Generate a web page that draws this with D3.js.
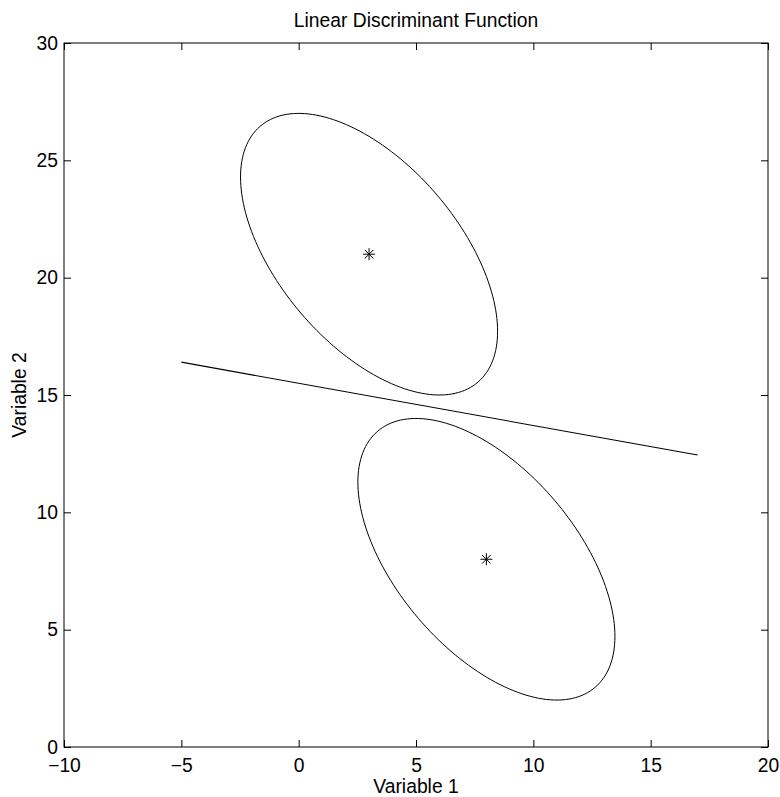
<!DOCTYPE html>
<html>
<head>
<meta charset="utf-8">
<script src="https://cdn.jsdelivr.net/npm/d3@7"></script>
<style>
  body { margin: 0; background: #fff; }
  text { font-family: "Liberation Sans", Arial, Helvetica, sans-serif; fill: #000; }
</style>
</head>
<body>
<svg id="chart"></svg>
<script>
// group means
const meanX = [3, 8];
const meanY = [21, 8];
// shared ellipse shape: covariance-style terms
const ellXX = 30;
const ellXY = -18;
const ellYY = 36;
// discriminant line end points
const lineX = [-5, 17];
const lineY = [16.4, 12.44];
// axes
const xTicks = [-10, -5, 0, 5, 10, 15, 20];
const yTicks = [0, 5, 10, 15, 20, 25, 30];

const canvasWidth = 780;
const canvasHeight = 797;
const plotLeft = 64, plotTop = 43, plotW = 704, plotH = 704;
const fontSize = "19.3px";

const svg = d3.select("#chart")
  .attr("width", canvasWidth)
  .attr("height", canvasHeight);

const x_scale = d3.scaleLinear().domain([-10, 20]).range([plotLeft, plotLeft + plotW]);
const y_scale = d3.scaleLinear().domain([0, 30]).range([plotTop + plotH, plotTop]);

const tickFmt = d3.format("");

// ticks (inside) on all four sides
svg.append("g")
  .attr("transform", `translate(0, ${plotTop + plotH})`)
  .call(d3.axisBottom(x_scale).tickValues(xTicks).tickSize(-7).tickPadding(11).tickFormat(tickFmt))
  .call(g => g.select(".domain").remove());
svg.append("g")
  .attr("transform", `translate(0, ${plotTop})`)
  .call(d3.axisTop(x_scale).tickValues(xTicks).tickSize(-7).tickFormat(""))
  .call(g => g.select(".domain").remove());
svg.append("g")
  .attr("transform", `translate(${plotLeft}, 0)`)
  .call(d3.axisLeft(y_scale).tickValues(yTicks).tickSize(-7).tickPadding(6).tickFormat(tickFmt))
  .call(g => g.select(".domain").remove());
svg.append("g")
  .attr("transform", `translate(${plotLeft + plotW}, 0)`)
  .call(d3.axisRight(y_scale).tickValues(yTicks).tickSize(-7).tickFormat(""))
  .call(g => g.select(".domain").remove());

svg.selectAll(".tick line").attr("stroke", "#000").attr("stroke-width", 1);
svg.selectAll(".tick text")
  .style("font-size", fontSize)
  .attr("font-family", null);

svg.append("rect")
  .attr("x", plotLeft).attr("y", plotTop)
  .attr("width", plotW).attr("height", plotH)
  .attr("fill", "none").attr("stroke", "#000").attr("stroke-width", 1);

// ellipses around each mean
const l11 = Math.sqrt(ellXX);
const l21 = ellXY / l11;
const l22 = Math.sqrt(ellYY - l21 * l21);
const angles = d3.range(0, 360, 2).map(a => a * Math.PI / 180);
const ellLine = d3.line()
  .x(d => x_scale(d.cx + l11 * Math.cos(d.t)))
  .y(d => y_scale(d.cy + l21 * Math.cos(d.t) + l22 * Math.sin(d.t)))
  .curve(d3.curveCardinalClosed);

svg.selectAll(".ellipse")
  .data(meanX.map((m, i) => angles.map(t => ({ cx: m, cy: meanY[i], t: t }))))
  .enter().append("path")
  .attr("class", "ellipse")
  .attr("d", ellLine)
  .attr("fill", "none")
  .attr("stroke", "#000")
  .attr("stroke-width", 1);

// discriminant line
svg.append("path")
  .datum(lineX.map((v, i) => [v, lineY[i]]))
  .attr("fill", "none")
  .attr("stroke", "#000")
  .attr("stroke-width", 1.1)
  .attr("d", d3.line().x(d => x_scale(d[0])).y(d => y_scale(d[1])));

// asterisk markers
const r = 6, rd = 4.3;
const starPath = `M${-r},0L${r},0M0,${-r}L0,${r}M${-rd},${-rd}L${rd},${rd}M${-rd},${rd}L${rd},${-rd}`;
svg.selectAll(".star")
  .data(meanX).enter()
  .append("path")
  .attr("class", "star")
  .attr("transform", (d, i) => `translate(${x_scale(d)}, ${y_scale(meanY[i])})`)
  .attr("d", starPath)
  .attr("stroke", "#000")
  .attr("stroke-width", 1);

// labels
svg.append("text")
  .attr("x", plotLeft + plotW / 2).attr("y", 27)
  .attr("text-anchor", "middle")
  .style("font-size", fontSize)
  .text("Linear Discriminant Function");
svg.append("text")
  .attr("x", plotLeft + plotW / 2).attr("y", 793)
  .attr("text-anchor", "middle")
  .style("font-size", fontSize)
  .text("Variable 1");
svg.append("text")
  .attr("transform", `translate(26, ${plotTop + plotH / 2}) rotate(-90)`)
  .attr("text-anchor", "middle")
  .style("font-size", fontSize)
  .text("Variable 2");
</script>
</body>
</html>
